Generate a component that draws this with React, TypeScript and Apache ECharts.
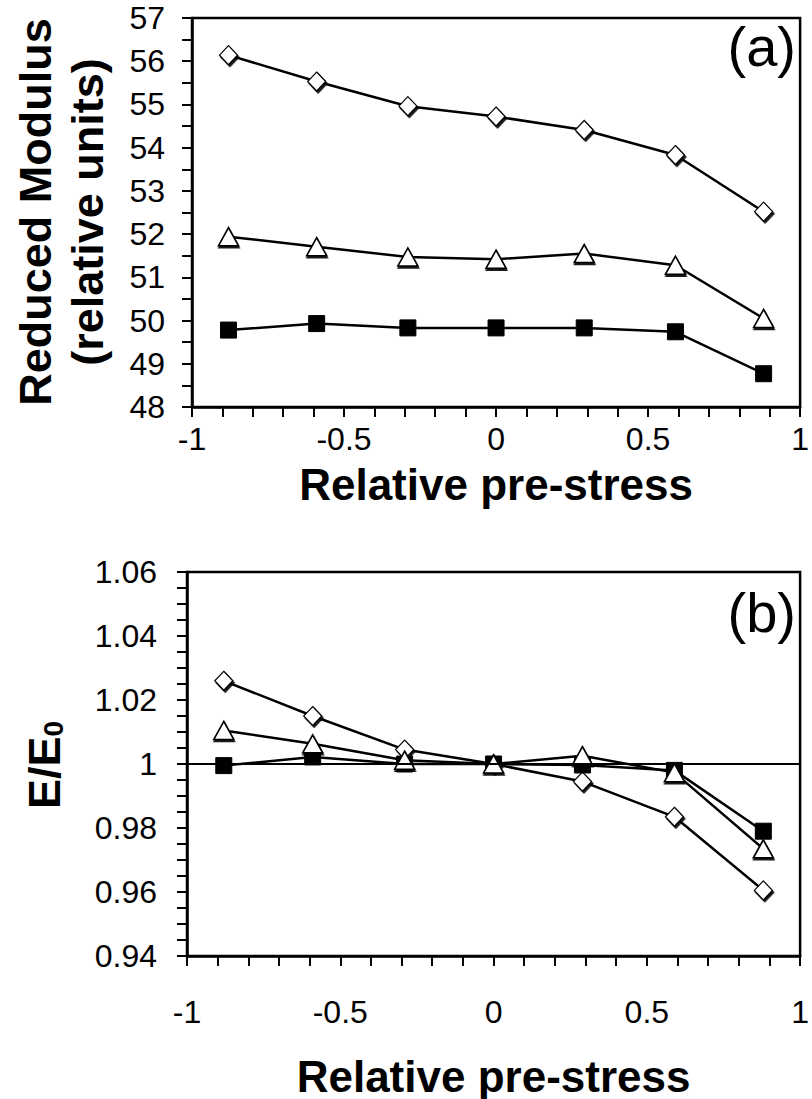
import React, { useEffect, useRef } from 'react';
import * as echarts from 'echarts';

const xVals = [-0.88, -0.59, -0.29, 0, 0.29, 0.59, 0.88];
const modDiamond = [56.14, 55.53, 54.96, 54.72, 54.41, 53.83, 52.52];
const modTriangle = [51.94, 51.71, 51.47, 51.42, 51.55, 51.28, 50.05];
const modSquare = [49.78, 49.93, 49.83, 49.83, 49.83, 49.74, 48.77];
const ratioDiamond = [1.026, 1.015, 1.0045, 1.0, 0.9945, 0.9835, 0.9605];
const ratioTriangle = [1.0105, 1.0063, 1.0012, 1.0, 1.0026, 0.9973, 0.9735];
const ratioSquare = [0.9995, 1.0022, 1.0, 1.0, 0.9997, 0.998, 0.979];
const xTickLabels = ['-1', '-0.5', '0', '0.5', '1'];

const FONT = 'Liberation Sans, Arial, Helvetica, sans-serif';

const pairs = (ys: number[]) => xVals.map((x, i) => [x, ys[i]]);

function xAxisCfg(gridIndex: number, labelMargin: number, nameGap: number) {
  return {
    type: 'value',
    gridIndex,
    min: -1,
    max: 1,
    interval: 0.1,
    name: 'Relative pre-stress',
    nameLocation: 'middle',
    nameGap,
    nameTextStyle: { fontFamily: FONT, fontSize: 44, fontWeight: 'bold', color: '#000' },
    axisLine: { show: true, onZero: false, lineStyle: { color: '#000', width: 2.5 } },
    axisTick: { show: true, inside: false, length: 10, lineStyle: { color: '#000', width: 2 } },
    axisLabel: {
      show: true,
      margin: labelMargin,
      fontFamily: FONT,
      fontSize: 32,
      color: '#000',
      showMinLabel: true,
      showMaxLabel: true,
      formatter: (v: number) => {
        const k = v * 2;
        if (Math.abs(k - Math.round(k)) < 1e-6) {
          const idx = Math.round(k) + 2;
          return xTickLabels[idx] ?? '';
        }
        return '';
      },
    },
    splitLine: { show: false },
  };
}

export default function App() {
  const ref = useRef<HTMLDivElement>(null);
  useEffect(() => {
    const chart = echarts.init(ref.current!, null, { renderer: 'svg' });
    const lineStyle = { color: '#000', width: 2.5 };
    const diamondItem = {
      color: '#fff',
      borderColor: '#000',
      borderWidth: 1.2,
      shadowColor: 'rgba(0,0,0,0.9)',
      shadowBlur: 1,
      shadowOffsetX: 1.5,
      shadowOffsetY: 2,
    };
    const triItem = {
      color: '#fff',
      borderColor: '#000',
      borderWidth: 1.6,
      shadowColor: 'rgba(0,0,0,0.9)',
      shadowBlur: 1,
      shadowOffsetX: 0.5,
      shadowOffsetY: 2,
    };
    const sqItem = { color: '#000', borderColor: '#000', borderWidth: 1 };

    const yAxisLine = { show: true, onZero: false, lineStyle: { color: '#000', width: 2.5 } };
    const yTick = { show: true, inside: false, length: 10, lineStyle: { color: '#000', width: 2 } };

    const option: any = {
      animation: false,
      backgroundColor: '#fff',
      grid: [
        { left: 192, top: 18, width: 613, height: 389, show: true, borderColor: '#000', borderWidth: 2.5, backgroundColor: 'transparent' },
        { left: 187, top: 572, width: 619, height: 387, show: true, borderColor: '#000', borderWidth: 2.5, backgroundColor: 'transparent' },
      ],
      xAxis: [xAxisCfg(0, 16, 55), xAxisCfg(1, 40, 98)],
      yAxis: [
        {
          type: 'value',
          gridIndex: 0,
          min: 48,
          max: 57,
          interval: 0.5,
          axisLine: yAxisLine,
          axisTick: yTick,
          axisLabel: {
            margin: 27,
            fontFamily: FONT,
            fontSize: 32,
            color: '#000',
            showMinLabel: true,
            showMaxLabel: true,
            formatter: (v: number) => (Math.abs(v - Math.round(v)) < 1e-6 ? String(Math.round(v)) : ''),
          },
          splitLine: { show: false },
        },
        {
          type: 'value',
          gridIndex: 1,
          min: 0.94,
          max: 1.06,
          interval: 0.005,
          axisLine: yAxisLine,
          axisTick: yTick,
          axisLabel: {
            margin: 30,
            fontFamily: FONT,
            fontSize: 32,
            color: '#000',
            showMinLabel: true,
            showMaxLabel: true,
            formatter: (v: number) => {
              const k = v * 50;
              if (Math.abs(k - Math.round(k)) < 1e-6) return String(parseFloat(v.toFixed(2)));
              return '';
            },
          },
          splitLine: { show: false },
        },
      ],
      graphic: [
        {
          type: 'text',
          x: 61,
          y: 212,
          rotation: Math.PI / 2,
          style: {
            text: 'Reduced Modulus\n(relative units)',
            font: `bold 45px ${FONT}`,
            fill: '#000',
            textAlign: 'center',
            textVerticalAlign: 'middle',
            lineHeight: 52,
          },
        },
        {
          type: 'text',
          x: 44,
          y: 765,
          rotation: Math.PI / 2,
          style: {
            text: '{e|E/E}{s|0}',
            fill: '#000',
            textAlign: 'center',
            textVerticalAlign: 'middle',
            rich: {
              e: { fontFamily: FONT, fontSize: 45, fontWeight: 'bold', fill: '#000', lineHeight: 50 },
              s: { fontFamily: FONT, fontSize: 28, fontWeight: 'bold', fill: '#000', padding: [18, 0, 0, 0], lineHeight: 30 },
            },
          },
        },
        {
          type: 'text',
          right: 16,
          top: 18,
          style: { text: '(a)', font: `56px ${FONT}`, fill: '#000' },
        },
        {
          type: 'text',
          right: 16,
          top: 584,
          style: { text: '(b)', font: `56px ${FONT}`, fill: '#000' },
        },
      ],
      series: [
        {
          type: 'line', xAxisIndex: 0, yAxisIndex: 0, data: pairs(modDiamond),
          symbol: 'diamond', symbolSize: [18, 19], lineStyle, itemStyle: diamondItem, z: 2,
        },
        {
          type: 'line', xAxisIndex: 0, yAxisIndex: 0, data: pairs(modSquare),
          symbol: 'rect', symbolSize: 16, lineStyle, itemStyle: sqItem, z: 3,
        },
        {
          type: 'line', xAxisIndex: 0, yAxisIndex: 0, data: pairs(modTriangle),
          symbol: 'triangle', symbolSize: [20, 18], lineStyle, itemStyle: triItem, z: 4,
        },
        {
          type: 'line', xAxisIndex: 1, yAxisIndex: 1, data: pairs(ratioDiamond),
          symbol: 'diamond', symbolSize: [18, 19], lineStyle, itemStyle: diamondItem, z: 2,
          markLine: {
            silent: true,
            symbol: ['none', 'none'],
            label: { show: false },
            lineStyle: { color: '#000', width: 2, type: 'solid' },
            data: [{ yAxis: 1 }],
          },
        },
        {
          type: 'line', xAxisIndex: 1, yAxisIndex: 1, data: pairs(ratioSquare),
          symbol: 'rect', symbolSize: 16, lineStyle, itemStyle: sqItem, z: 3,
        },
        {
          type: 'line', xAxisIndex: 1, yAxisIndex: 1, data: pairs(ratioTriangle),
          symbol: 'triangle', symbolSize: [20, 18], lineStyle, itemStyle: triItem, z: 4,
        },
      ],
    };
    chart.setOption(option);
    return () => chart.dispose();
  }, []);
  return (
    <div
      ref={ref}
      style={{ position: 'absolute', left: 0, top: 0, width: 812, height: 1099, background: '#fff' }}
    />
  );
}
